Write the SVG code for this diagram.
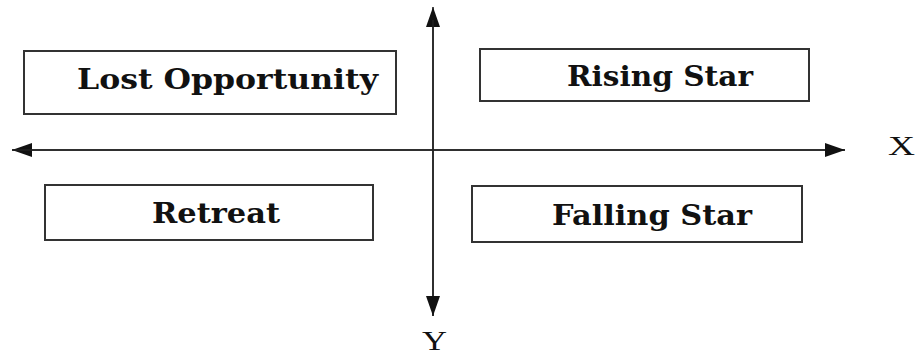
<svg xmlns="http://www.w3.org/2000/svg" width="918" height="356" viewBox="0 0 918 356">
<style>
.box{fill:#fff;stroke:#333;stroke-width:2}
.lbl{font-family:"DejaVu Serif","Liberation Serif",serif;font-weight:700;font-size:27px;fill:#111}
.ax{font-family:"Liberation Serif","Times New Roman",serif;font-size:28px;fill:#111}
.axis{stroke:#222;stroke-width:1.5;fill:none}
</style>
<defs>
<marker id="ah" viewBox="0 0 20 14" refX="20" refY="7" markerWidth="20" markerHeight="14" markerUnits="userSpaceOnUse" orient="auto">
<path d="M0,0 L20,7 L0,14 Z" fill="#111"/>
</marker>
</defs>
<rect width="918" height="356" fill="#fff"/>
<g id="connectors">
<line class="axis" x1="433" y1="316" x2="433" y2="7" marker-end="url(#ah)"/>
<line class="axis" x1="433" y1="20" x2="433" y2="316" marker-end="url(#ah)"/>
<line class="axis" x1="845" y1="150" x2="12" y2="150" marker-end="url(#ah)"/>
<line class="axis" x1="12" y1="150" x2="845" y2="150" marker-end="url(#ah)"/>
</g>
<g id="lost-opportunity">
<rect class="box" x="24" y="51" width="372" height="63"/>
<text class="lbl" x="77" y="89" textLength="301" lengthAdjust="spacingAndGlyphs">Lost Opportunity</text>
</g>
<g id="rising-star">
<rect class="box" x="480" y="49" width="329" height="52"/>
<text class="lbl" x="567" y="86" textLength="186" lengthAdjust="spacingAndGlyphs">Rising Star</text>
</g>
<g id="retreat">
<rect class="box" x="45" y="185" width="328" height="55"/>
<text class="lbl" x="152" y="223" textLength="128" lengthAdjust="spacingAndGlyphs">Retreat</text>
</g>
<g id="falling-star">
<rect class="box" x="472" y="186" width="330" height="56"/>
<text class="lbl" x="552" y="225" textLength="200" lengthAdjust="spacingAndGlyphs">Falling Star</text>
</g>
<g id="axis-x">
<text class="ax" x="888" y="155" textLength="27" lengthAdjust="spacingAndGlyphs">X</text>
</g>
<g id="axis-y">
<text class="ax" x="422" y="350" textLength="25" lengthAdjust="spacingAndGlyphs">Y</text>
</g>
</svg>
